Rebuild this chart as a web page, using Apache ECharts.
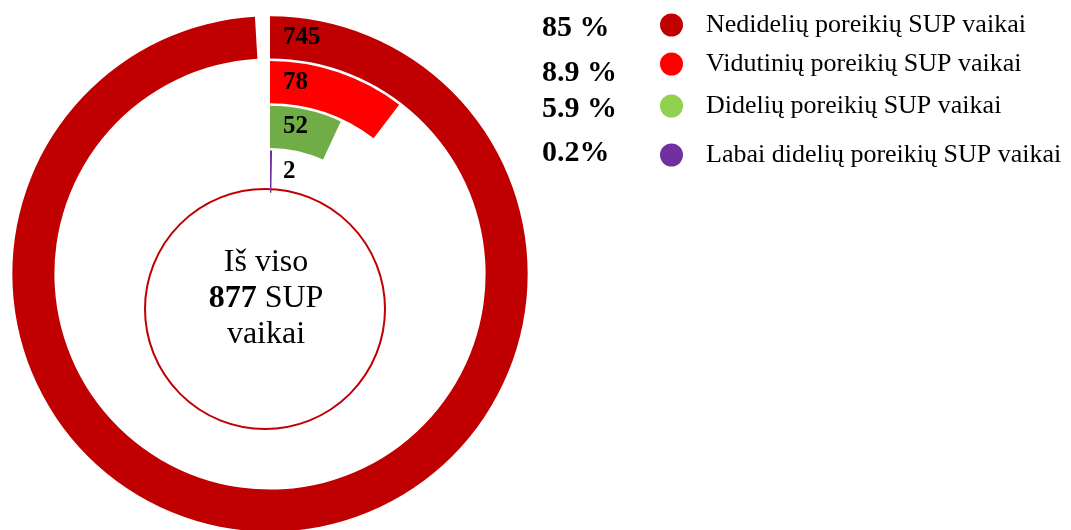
<!DOCTYPE html>
<html>
<head>
<meta charset="utf-8">
<script src="https://cdn.jsdelivr.net/npm/echarts@6/dist/echarts.min.js"></script>
<style>
  html, body { margin: 0; padding: 0; background: #fff; }
  #chart { width: 1071px; height: 530px; }
</style>
</head>
<body>
<div id="chart"></div>
<script>
// kategorijos nuo vidinio iki išorinio žiedo
const categories = [
  'Labai didelių poreikių SUP vaikai',
  'Didelių poreikių SUP vaikai',
  'Vidutinių poreikių SUP vaikai',
  'Nedidelių poreikių SUP vaikai'
];
const values = [2, 52, 78, 745];
const barColors = ['#7030A0', '#70AD47', '#FF0000', '#C00000'];
const legendColors = ['#7030A0', '#92D050', '#FF0000', '#C00000'];
const percentLabels = ['0.2%', '5.9 %', '8.9 %', '85 %'];
const angleMax = 752;

const total = values.reduce((a, b) => a + b, 0);
const serif = '"Liberation Serif", "DejaVu Serif", serif';

// legendos eilutės (iš viršaus į apačią)
const legendTops = [137, 88, 46, 7];
const percentY = [154, 110, 74, 29];

const series = categories.map((name, i) => ({
  name: name,
  type: 'bar',
  coordinateSystem: 'polar',
  stack: 'sup',
  barCategoryGap: '6%',
  data: values.map((v, j) => (j === i ? v : '-')),
  itemStyle: { color: barColors[i] },
  label: {
    show: true,
    position: 'insideStart',
    rotate: 0,
    distance: 13,
    color: '#000',
    fontFamily: serif,
    fontWeight: 'bold',
    fontSize: 25
  },
  emphasis: { disabled: true }
}));

const legends = categories.map((name, i) => ({
  data: [{ name: name, itemStyle: { color: legendColors[i] } }],
  left: 655,
  top: legendTops[i],
  icon: 'circle',
  itemWidth: 27,
  itemHeight: 23,
  symbolKeepAspect: false,
  selectedMode: false,
  textStyle: {
    fontFamily: serif,
    fontSize: 26,
    color: '#000',
    padding: [0, 0, 0, 16]
  }
}));

const graphics = percentLabels.map((t, i) => ({
  type: 'text',
  left: 542,
  top: percentY[i] - 16,
  style: {
    text: t,
    font: 'bold 30px ' + serif,
    fill: '#000'
  }
}));

graphics.push({
  type: 'circle',
  shape: { cx: 265, cy: 309, r: 120 },
  style: { fill: 'transparent', stroke: '#C00000', lineWidth: 2 },
  z: 1
});
graphics.push({
  type: 'text',
  x: 266,
  y: 299,
  style: {
    text: '{n|Iš viso}\n{b|' + total + '}{n| SUP}\n{n|vaikai}',
    align: 'center',
    verticalAlign: 'middle',
    fill: '#000',
    rich: {
      n: { fontFamily: serif, fontSize: 32, lineHeight: 36, color: '#000' },
      b: { fontFamily: serif, fontSize: 32, lineHeight: 36, fontWeight: 'bold', color: '#000' }
    }
  },
  z: 2
});

const chart = echarts.init(document.getElementById('chart'));
chart.setOption({
  animation: false,
  backgroundColor: '#fff',
  polar: {
    center: [270, 274],
    radius: [80, 259]
  },
  angleAxis: {
    type: 'value',
    min: 0,
    max: angleMax,
    startAngle: 90,
    clockwise: true,
    show: false
  },
  radiusAxis: {
    type: 'category',
    data: categories,
    show: false
  },
  legend: legends,
  graphic: graphics,
  series: series
});
</script>
</body>
</html>
